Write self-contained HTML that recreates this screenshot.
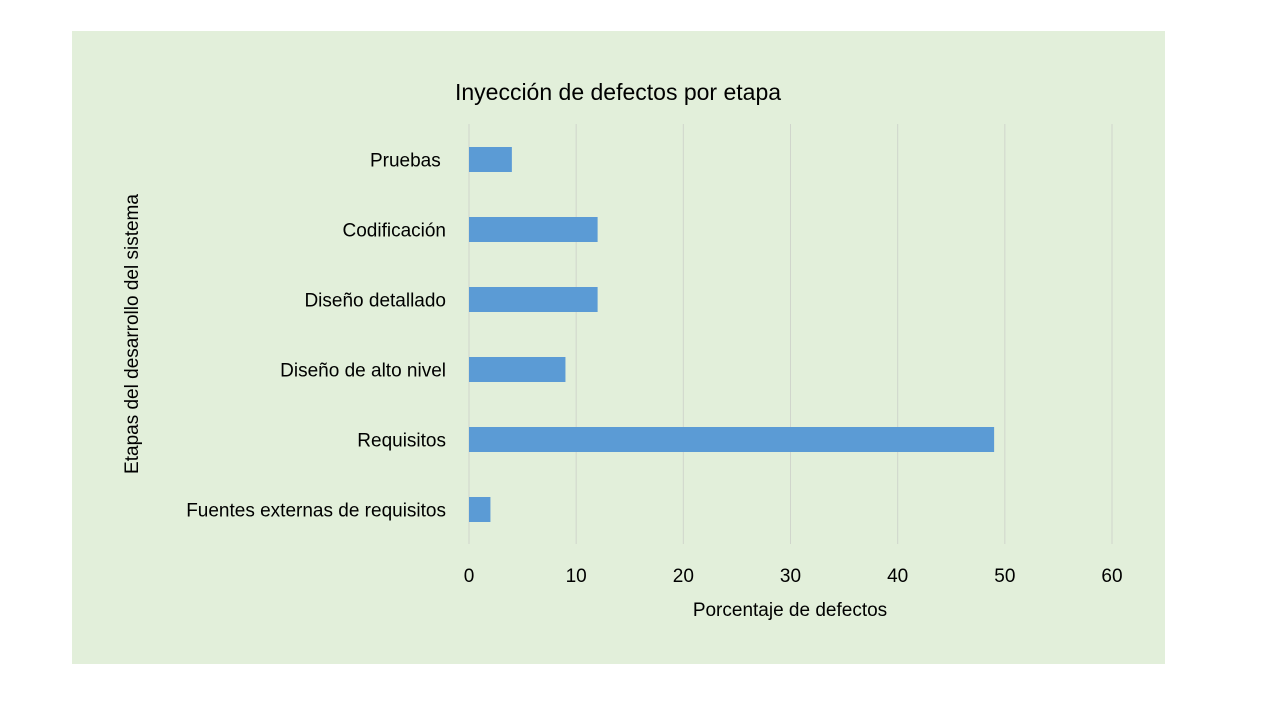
<!DOCTYPE html>
<html><head><meta charset="utf-8"><style>
body{margin:0;width:1280px;height:720px;background:#fff;overflow:hidden;font-family:"Liberation Sans",sans-serif;}
</style></head><body>
<svg id="chart" width="1280" height="720" xmlns="http://www.w3.org/2000/svg">
<rect x="72" y="31" width="1093" height="633" fill="#e2efda"/>
<text x="618" y="100" font-size="23" text-anchor="middle" fill="#000">Inyección de defectos por etapa</text>
<text x="790" y="616" font-size="19" text-anchor="middle" fill="#000">Porcentaje de defectos</text>
<text transform="translate(138,334) rotate(-90)" font-size="19" text-anchor="middle" fill="#000">Etapas del desarrollo del sistema</text>
<g id="grid"></g><g id="bars"></g><g id="labels"></g>
</svg>
<script>
const categories=["Pruebas ","Codificación","Diseño detallado","Diseño de alto nivel","Requisitos","Fuentes externas de requisitos"];
const values=[4,12,12,9,49,2];
const ticks=[0,10,20,30,40,50,60];
const NS="http://www.w3.org/2000/svg";
const x=v=>469+v*(1112-469)/60;
const y=i=>159.5+i*70;
const grid=document.getElementById('grid'),bars=document.getElementById('bars'),labels=document.getElementById('labels');
ticks.forEach(t=>{
const l=document.createElementNS(NS,'line');


l.setAttribute('x1',x(t));l.setAttribute('x2',x(t));l.setAttribute('y1',124);l.setAttribute('y2',544);
l.setAttribute('stroke','#d0d5cc');l.setAttribute('stroke-width','1');grid.appendChild(l);
const tx=document.createElementNS(NS,'text');


tx.setAttribute('x',x(t));tx.setAttribute('y',582);tx.setAttribute('font-size','19');tx.setAttribute('text-anchor','middle');
tx.textContent=t;labels.appendChild(tx);
});
categories.forEach((c,i)=>{
const r=document.createElementNS(NS,'rect');


r.setAttribute('x',x(0));r.setAttribute('y',y(i)-12.5);r.setAttribute('width',x(values[i])-x(0));r.setAttribute('height',25);
r.setAttribute('fill','#5b9bd5');bars.appendChild(r);
const t=document.createElementNS(NS,'text');


t.setAttribute('x',446);t.setAttribute('y',y(i)+7);t.setAttribute('font-size','19');t.setAttribute('text-anchor','end');
t.setAttribute('xml:space','preserve');t.style.whiteSpace='pre';
t.textContent=c;labels.appendChild(t);
});
</script>
</body></html>
